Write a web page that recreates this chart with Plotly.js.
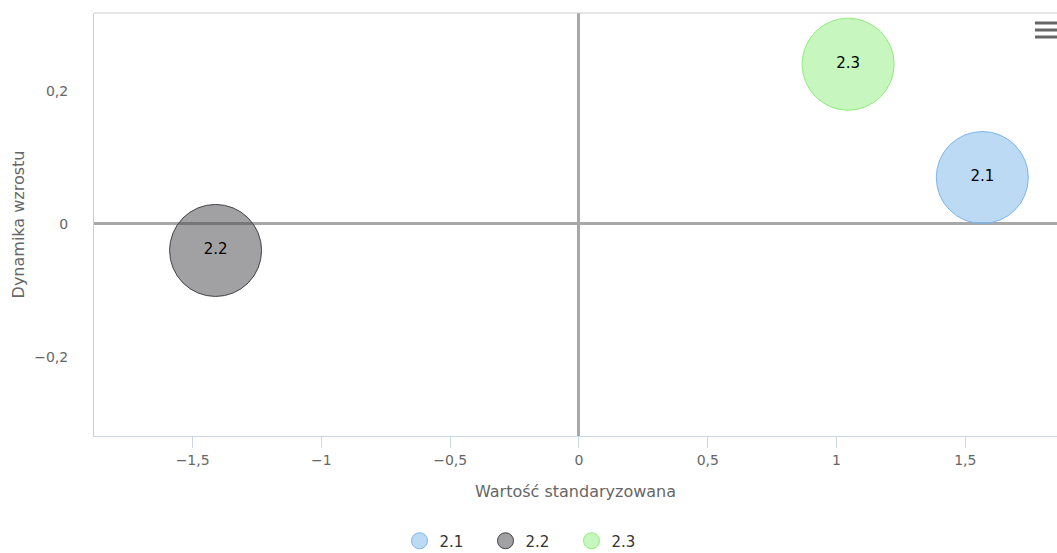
<!DOCTYPE html>
<html>
<head>
<meta charset="utf-8">
<script src="https://cdn.plot.ly/plotly-3.0.1.min.js"></script>
<style>html,body{margin:0;padding:0;background:#fff;}#chart{width:1057px;height:553px;}</style>
</head>
<body>
<div id="chart"></div>
<script>
// Data
const names = ["2.1", "2.2", "2.3"];
const xValues = [1.566, -1.411, 1.045];
const yValues = [0.0696, -0.040, 0.240];
const zValues = [1, 1, 1];
const fillColors = ["rgba(124,181,236,0.5)", "rgba(67,67,72,0.5)", "rgba(144,237,125,0.5)"];
const lineColors = ["#7cb5ec", "#434348", "#90ed7d"];
const xTitle = "Wartość standaryzowana";
const yTitle = "Dynamika wzrostu";

const FONT = "DejaVu Sans, Verdana, sans-serif";
const bubbleDiameter = 92;
const maxZ = Math.max(...zValues);

const traces = names.map((n, i) => ({
  type: "scatter",
  mode: "markers+text",
  name: n,
  x: [xValues[i]],
  y: [yValues[i]],
  text: [n],
  textposition: "middle center",
  textfont: {family: FONT, size: 15, color: "#000"},
  hoverinfo: "x+y+name",
  marker: {
    size: bubbleDiameter * zValues[i] / maxZ,
    opacity: 1,
    color: fillColors[i],
    line: {color: lineColors[i], width: 1}
  },
  cliponaxis: false
}));

const layout = {
  width: 1057,
  height: 553,
  margin: {l: 94, r: 0, t: 13, b: 117, pad: 0},
  paper_bgcolor: "#fff",
  plot_bgcolor: "#fff",
  separators: ", ",
  font: {family: FONT, color: "#666"},
  showlegend: true,
  legend: {
    orientation: "h",
    xref: "container", yref: "container",
    x: 0.5, xanchor: "center",
    y: 1 - 541/553, yanchor: "middle",
    font: {family: FONT, size: 15, color: "#333"},
    itemsizing: "trace",
    entrywidth: 41,
    entrywidthmode: "pixels",
    itemclick: false
  },
  xaxis: {
    range: [-1.883, 1.856],
    dtick: 0.5,
    tick0: 0,
    showgrid: false,
    zeroline: true,
    zerolinecolor: "#a8a8a8",
    zerolinewidth: 3,
    showline: true,
    linecolor: "#ccd6eb",
    linewidth: 1,
    ticks: "outside",
    ticklen: 11,
    tickcolor: "#ccd6eb",
    tickfont: {family: FONT, size: 14, color: "#666"},
    title: {text: xTitle, font: {family: FONT, size: 16, color: "#666"}, standoff: 19},
    fixedrange: true
  },
  yaxis: {
    range: [-0.319, 0.317],
    dtick: 0.2,
    tick0: 0,
    showgrid: false,
    zeroline: true,
    zerolinecolor: "#a8a8a8",
    zerolinewidth: 3,
    showline: true,
    linecolor: "#cccccc",
    linewidth: 1,
    ticks: "",
    ticklabelstandoff: 22,
    tickfont: {family: FONT, size: 14, color: "#666"},
    title: {text: yTitle, font: {family: FONT, size: 16, color: "#666"}, standoff: 5},
    fixedrange: true
  },
  shapes: [
    {type: "line", xref: "paper", yref: "paper", x0: 0, x1: 1, y0: 1, y1: 1, line: {color: "#cccccc", width: 1}},
    {type: "line", xref: "paper", yref: "paper", x0: (1035-94)/963, x1: 1, y0: 1-(23-13)/423, y1: 1-(23-13)/423, line: {color: "#666", width: 3}},
    {type: "line", xref: "paper", yref: "paper", x0: (1035-94)/963, x1: 1, y0: 1-(30-13)/423, y1: 1-(30-13)/423, line: {color: "#666", width: 3}},
    {type: "line", xref: "paper", yref: "paper", x0: (1035-94)/963, x1: 1, y0: 1-(37-13)/423, y1: 1-(37-13)/423, line: {color: "#666", width: 3}}
  ]
};

Plotly.newPlot("chart", traces, layout, {displayModeBar: false});
</script>
</body>
</html>
